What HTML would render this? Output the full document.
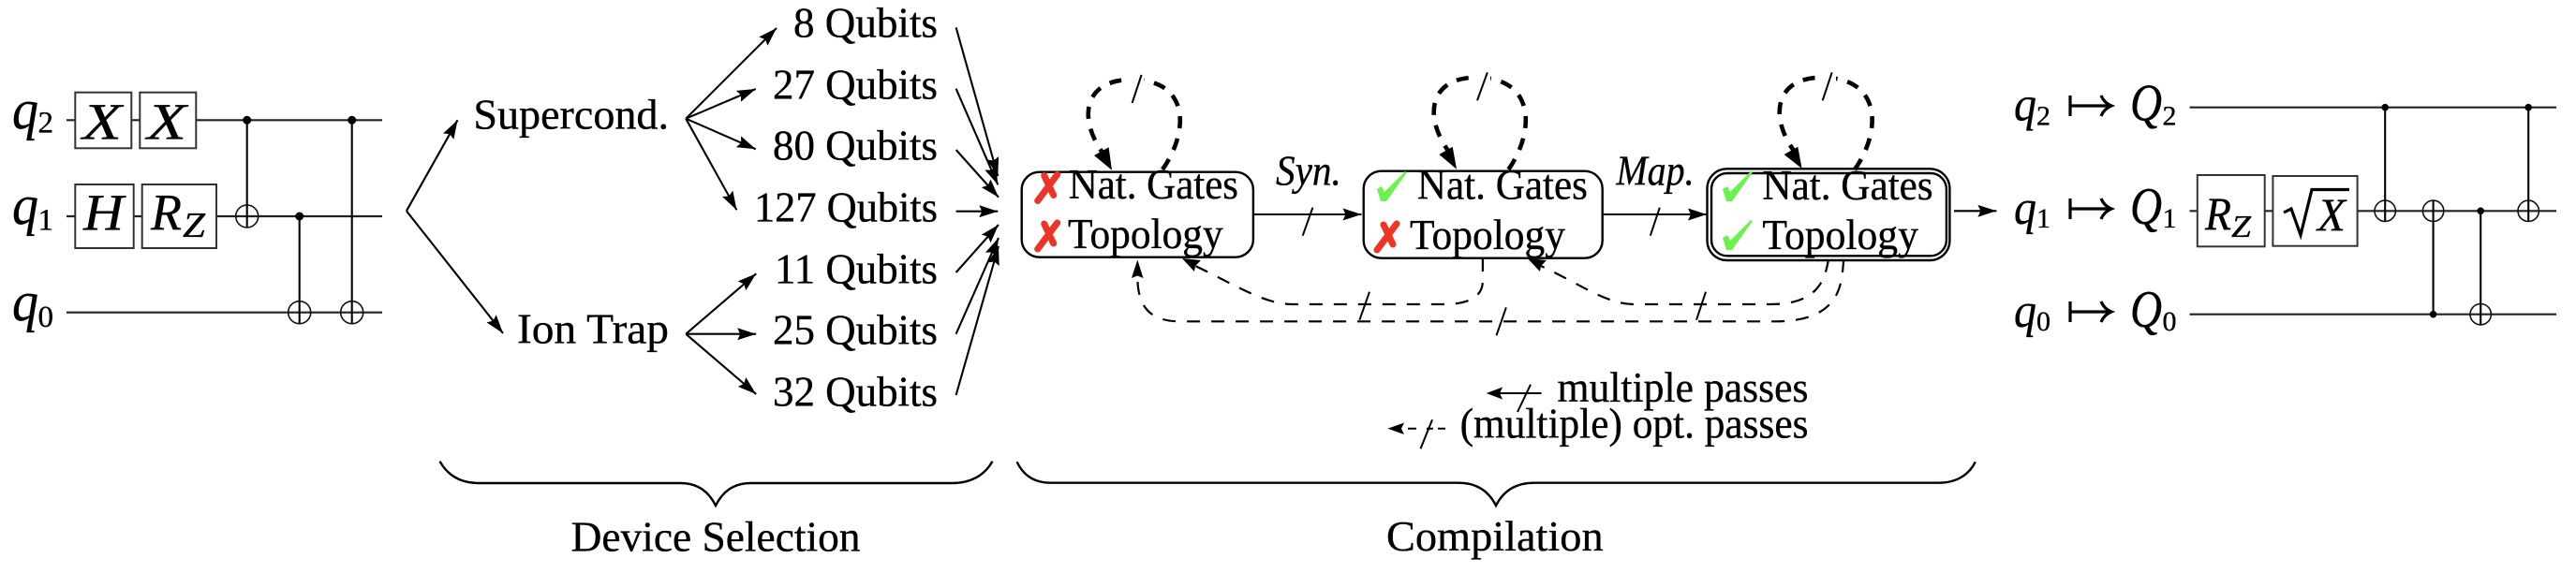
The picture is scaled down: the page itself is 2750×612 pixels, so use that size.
<!DOCTYPE html>
<html><head><meta charset="utf-8"><style>
html,body{margin:0;padding:0;background:#fff;width:2750px;height:612px;overflow:hidden}
svg{display:block}
text{font-family:"Liberation Serif",serif;fill:#000;stroke:#000;stroke-width:.35px}
.t{font-size:45px}
.i{font-style:italic}
.w{stroke:#222;stroke-width:2.2;fill:none}
.l{stroke:#000;stroke-width:2.1;fill:none}
.s{stroke:#000;stroke-width:2;fill:none}
.g{stroke:#333;stroke-width:2;fill:#fff}
.o{stroke:#111;stroke-width:1.6;fill:none}
.d{stroke:#000;stroke-width:2.2;fill:none;stroke-dasharray:14 12}
.dd{stroke:#000;stroke-width:4.6;fill:none;stroke-dasharray:13 11}
.b{stroke:#000;stroke-width:2.4;fill:none}
.x{stroke:#ee3424;fill:none;stroke-linecap:round}
</style></head><body>
<svg xmlns="http://www.w3.org/2000/svg" width="2750" height="612" viewBox="0 0 2750 612">
<defs>
<marker id="a" markerUnits="userSpaceOnUse" markerWidth="24" markerHeight="20" refX="20" refY="8" orient="auto"><path d="M0,1.5 L20,8 L0,14.5 L3,8z" fill="#000"/></marker>
<g id="ck"><path d="M1,19 L6,16 L9,22 L31,0 L33,1 L11,32 L5,32z" fill="#6cf24c"/></g>
<g id="xx"><path d="M1,29 L22,1" class="x" stroke-width="7"/><path d="M8,2 L18,23" class="x" stroke-width="7"/></g>
</defs>

<!-- left circuit -->
<g>
<path class="w" d="M71 128.3H408M71 231H408M71 333.7H408"/>
<rect class="g" x="80.3" y="98.7" width="60" height="59.6"/>
<rect class="g" x="149.3" y="98.7" width="60" height="59.6"/>
<rect class="g" x="80.3" y="197" width="62.4" height="68"/>
<rect class="g" x="151.7" y="197" width="79.3" height="68"/>
<text class="i" x="88" y="148.3" font-size="55" textLength="42" lengthAdjust="spacingAndGlyphs">X</text>
<text class="i" x="157" y="148.3" font-size="55" textLength="42" lengthAdjust="spacingAndGlyphs">X</text>
<text class="i" x="89" y="245.7" font-size="55" textLength="43" lengthAdjust="spacingAndGlyphs">H</text>
<text class="i" x="161" y="245.7" font-size="55" textLength="33" lengthAdjust="spacingAndGlyphs">R</text>
<text class="i" x="195" y="253" font-size="38" textLength="24" lengthAdjust="spacingAndGlyphs">Z</text>
<path class="l" stroke-width="2" d="M263.7 128.3V243M319.7 231V345.7M375.7 128.3V345.7"/>
<circle cx="263.7" cy="128.3" r="4.5"/><circle cx="375.7" cy="128.3" r="4.5"/><circle cx="319.7" cy="231" r="4.5"/>
<circle class="o" cx="263.7" cy="231" r="12"/>
<circle class="o" cx="319.7" cy="333.7" r="12"/>
<circle class="o" cx="375.7" cy="333.7" r="12"/>
<text class="i" x="13" y="137" font-size="60" textLength="28" lengthAdjust="spacingAndGlyphs">q</text><text x="40.5" y="141.7" font-size="33">2</text>
<text class="i" x="13" y="239" font-size="60" textLength="28" lengthAdjust="spacingAndGlyphs">q</text><text x="40.5" y="245.7" font-size="33">1</text>
<text class="i" x="13" y="342" font-size="60" textLength="28" lengthAdjust="spacingAndGlyphs">q</text><text x="40.5" y="349" font-size="33">0</text>
</g>

<!-- device selection -->
<g>
<path class="l" marker-end="url(#a)" d="M433.9 225.3L488.5 128.3"/>
<path class="l" marker-end="url(#a)" d="M433.9 225.3L537 356"/>
<path class="l" marker-end="url(#a)" d="M732.2 126.7L829 30"/>
<path class="l" marker-end="url(#a)" d="M732.2 126.7L806.8 95"/>
<path class="l" marker-end="url(#a)" d="M732.2 126.7L806.8 159.3"/>
<path class="l" marker-end="url(#a)" d="M732.2 126.7L786.4 224.3"/>
<path class="l" marker-end="url(#a)" d="M732.2 356.7L807.2 292.3"/>
<path class="l" marker-end="url(#a)" d="M732.2 356.7L807.2 356.7"/>
<path class="l" marker-end="url(#a)" d="M732.2 356.7L807.2 421"/>
<path class="l" marker-end="url(#a)" d="M1020.6 29.3L1065.3 188"/>
<path class="l" marker-end="url(#a)" d="M1020.6 94.7L1065.3 197.3"/>
<path class="l" marker-end="url(#a)" d="M1020.6 160L1066 210.7"/>
<path class="l" marker-end="url(#a)" d="M1020.6 225.7L1065.3 225.7"/>
<path class="l" marker-end="url(#a)" d="M1020.6 291L1066 240"/>
<path class="l" marker-end="url(#a)" d="M1020.6 356.7L1066 254"/>
<path class="l" marker-end="url(#a)" d="M1020.6 422L1066 263"/>
<text class="t" x="505.4" y="137.3" textLength="208.6" lengthAdjust="spacingAndGlyphs">Supercond.</text>
<text class="t" x="552" y="366.7" textLength="162" lengthAdjust="spacingAndGlyphs">Ion Trap</text>
<text class="t" x="847" y="39.3" textLength="154" lengthAdjust="spacingAndGlyphs">8 Qubits</text>
<text class="t" x="825" y="105.3" textLength="176" lengthAdjust="spacingAndGlyphs">27 Qubits</text>
<text class="t" x="825" y="170.7" textLength="176" lengthAdjust="spacingAndGlyphs">80 Qubits</text>
<text class="t" x="805" y="236.7" textLength="196" lengthAdjust="spacingAndGlyphs">127 Qubits</text>
<text class="t" x="827" y="302.3" textLength="174" lengthAdjust="spacingAndGlyphs">11 Qubits</text>
<text class="t" x="825" y="367.7" textLength="176" lengthAdjust="spacingAndGlyphs">25 Qubits</text>
<text class="t" x="825" y="433.3" textLength="176" lengthAdjust="spacingAndGlyphs">32 Qubits</text>
</g>

<!-- compilation boxes -->
<g>
<rect class="b" x="1090.7" y="183.7" width="247.2" height="91" rx="19"/>
<rect class="b" x="1455.7" y="182.7" width="255" height="93" rx="19"/>
<rect class="b" x="1822.5" y="180.3" width="258.9" height="97.7" rx="21"/>
<rect class="b" x="1827" y="185" width="250.9" height="88.3" rx="17"/>

<text class="t" x="1140.7" y="212" textLength="181.3" lengthAdjust="spacingAndGlyphs">Nat. Gates</text>
<text class="t" x="1140" y="265" textLength="165.7" lengthAdjust="spacingAndGlyphs">Topology</text>
<text class="t" x="1512.9" y="212.5" textLength="182" lengthAdjust="spacingAndGlyphs">Nat. Gates</text>
<text class="t" x="1505" y="266" textLength="166" lengthAdjust="spacingAndGlyphs">Topology</text>
<text class="t" x="1881.4" y="213" textLength="182.2" lengthAdjust="spacingAndGlyphs">Nat. Gates</text>
<text class="t" x="1881.4" y="266" textLength="166.5" lengthAdjust="spacingAndGlyphs">Topology</text>

<use href="#xx" transform="translate(1106.7,185.5)"/>
<use href="#xx" transform="translate(1106.7,237)"/>
<use href="#ck" transform="translate(1469,183)"/>
<use href="#xx" transform="translate(1469,238)"/>
<use href="#ck" transform="translate(1838,183)"/>
<use href="#ck" transform="translate(1838,235)"/>

<text class="t i" x="1362" y="197.3" textLength="69.8" lengthAdjust="spacingAndGlyphs">Syn.</text>
<text class="t i" x="1725.4" y="197.3" textLength="83.2" lengthAdjust="spacingAndGlyphs">Map.</text>

<path class="l" marker-end="url(#a)" d="M1337.9 229H1453.5"/>
<path class="s" d="M1401.4 221.7L1390.7 251.7"/>
<path class="l" marker-end="url(#a)" d="M1711.8 229H1822"/>
<path class="s" d="M1771.8 221.7L1761.8 251.7"/>
<path class="l" marker-end="url(#a)" d="M2086 225.3H2131.4"/>

<!-- self loops -->
<path class="dd" d="M1241 181C1270 140 1270 85 1208 85C1158 85 1150 125 1177 163"/>
<rect x="1208" y="76" width="13" height="18" fill="#fff"/>
<polygon points="1187,181.7 1168,166 1183.6,157.3"/>
<path class="s" d="M1218.6 80L1208.6 110"/>
<path class="dd" d="M1610.4 181C1639 140 1639 82.7 1576 82.7C1527 82.7 1519 123 1546 161"/>
<rect x="1578" y="74" width="13" height="18" fill="#fff"/>
<polygon points="1555,180.7 1536.4,165 1550.7,156.7"/>
<path class="s" d="M1587.9 77.3L1577 107.3"/>
<path class="dd" d="M1980 181C2009 140 2009 82.7 1945 82.7C1896 82.7 1888 123 1915 161"/>
<rect x="1947" y="74" width="13" height="18" fill="#fff"/>
<polygon points="1923.6,180 1904.6,165 1919.3,156.7"/>
<path class="s" d="M1955.7 77.3L1945.7 107.3"/>

<!-- dashed returns -->
<path class="d" d="M1582.9 276V300C1582.9 316 1570 325 1540 325H1380C1350 325 1320 305 1276 284"/>
<polygon points="1262,276 1282,278 1276,284 1275,290"/>
<path class="s" d="M1462 311.7L1451.4 341.7"/>
<path class="d" d="M1952 277C1948 300 1940 325 1890 325H1745C1715 325 1690 305 1645 284"/>
<polygon points="1630.7,276 1651,278 1645,284 1644,290"/>
<path class="s" d="M1821 311.7L1811 341.7"/>
<path class="d" d="M1968.2 277C1966 300 1968 343.3 1895 343.3H1260C1225 343.3 1214.3 325 1214.3 295"/>
<polygon points="1214.3,277.5 1220.5,297 1214.3,294.5 1208,297"/>
<path class="s" d="M1607.9 328.3L1597.5 358.3"/>

<!-- legend -->
<path class="l" d="M1645.6 420H1600"/>
<polygon points="1586.7,420 1604,413.5 1601,420 1604,426.5"/>
<path class="s" d="M1634 410.7L1620 440"/>
<text class="t" x="1662.5" y="429" textLength="268" lengthAdjust="spacingAndGlyphs">multiple passes</text>
<path class="s" stroke-width="2.4" d="M1503 457.7H1512M1523 457.7H1530M1535 457.7H1543"/>
<polygon points="1481.4,457.7 1499,451.5 1496,457.7 1499,464"/>
<path class="s" d="M1529 448.3L1516.5 479.3"/>
<text class="t" x="1558.6" y="467.3" textLength="371.9" lengthAdjust="spacingAndGlyphs">(multiple) opt. passes</text>

<!-- braces -->
<path class="b" d="M469.5 492.7C478 508 492 516 511.5 516H726C746 516 757 526 764 540C771 526 782 516 802 516H1016.6C1036 516 1051 508 1059.5 492.7"/>
<path class="b" d="M1085.6 493.3C1092 507 1103 515.7 1122 515.7H1557C1578 515.7 1590 526 1597 540C1604 526 1616 515.7 1638 515.7H2069.5C2089 515.7 2102 507 2108.8 493.3"/>
<text class="t" x="609.6" y="588.3" textLength="308.9" lengthAdjust="spacingAndGlyphs">Device Selection</text>
<text class="t" x="1480" y="588" textLength="231.6" lengthAdjust="spacingAndGlyphs">Compilation</text>
</g>

<!-- right circuit -->
<g>
<path class="w" d="M2337.5 114.7H2729M2337.5 225.3H2729M2337.5 335.7H2729"/>
<rect class="g" x="2345.8" y="187" width="71.9" height="76.3"/>
<rect class="g" x="2426.4" y="188" width="90.2" height="74.7"/>
<text class="i" x="2354" y="245" font-size="50" textLength="28" lengthAdjust="spacingAndGlyphs">R</text>
<text class="i" x="2382" y="253" font-size="34" textLength="21" lengthAdjust="spacingAndGlyphs">Z</text>
<path d="M2438 227L2446 223L2456 251L2468 202.5H2508" fill="none" stroke="#000" stroke-width="3.2"/>
<text class="i" x="2474" y="246" font-size="50" textLength="30" lengthAdjust="spacingAndGlyphs">X</text>
<path class="l" stroke-width="2" d="M2546.2 114.7V236.3M2597.6 214.3V335.7M2648.2 225.3V346.7M2699.2 114.7V236.3"/>
<circle cx="2546.2" cy="114.7" r="3.8"/><circle cx="2597.6" cy="335.7" r="3.8"/><circle cx="2648.2" cy="225.3" r="3.8"/><circle cx="2699.2" cy="114.7" r="3.8"/>
<circle class="o" cx="2546.2" cy="225.3" r="11.2"/>
<circle class="o" cx="2597.6" cy="225.3" r="11.2"/>
<circle class="o" cx="2648.2" cy="335.7" r="11.2"/>
<circle class="o" cx="2699.2" cy="225.3" r="11.2"/>
<text class="i" x="2150" y="128.5" font-size="52" textLength="24" lengthAdjust="spacingAndGlyphs">q</text><text x="2174" y="133.3" font-size="30">2</text>
<text class="i" x="2150" y="239" font-size="52" textLength="24" lengthAdjust="spacingAndGlyphs">q</text><text x="2174" y="243" font-size="30">1</text>
<text class="i" x="2150" y="349" font-size="52" textLength="24" lengthAdjust="spacingAndGlyphs">q</text><text x="2174" y="353" font-size="30">0</text>
<path d="M2210 102V124M2210 113H2253M2243 102C2245 107 2249 111 2254 113C2249 115 2245 119 2243 124" fill="none" stroke="#000" stroke-width="3.2"/>
<path d="M2210 212V234M2210 223H2253M2243 212C2245 217 2249 221 2254 223C2249 225 2245 229 2243 234" fill="none" stroke="#000" stroke-width="3.2"/>
<path d="M2210 322V344M2210 333H2253M2243 322C2245 327 2249 331 2254 333C2249 335 2245 339 2243 344" fill="none" stroke="#000" stroke-width="3.2"/>
<text class="i" x="2274" y="128.5" font-size="56" textLength="34" lengthAdjust="spacingAndGlyphs">Q</text><text x="2308.5" y="133.3" font-size="30">2</text>
<text class="i" x="2274" y="239" font-size="56" textLength="34" lengthAdjust="spacingAndGlyphs">Q</text><text x="2308.5" y="243" font-size="30">1</text>
<text class="i" x="2274" y="349" font-size="56" textLength="34" lengthAdjust="spacingAndGlyphs">Q</text><text x="2308.5" y="353" font-size="30">0</text>
</g>
</svg>
</body></html>
